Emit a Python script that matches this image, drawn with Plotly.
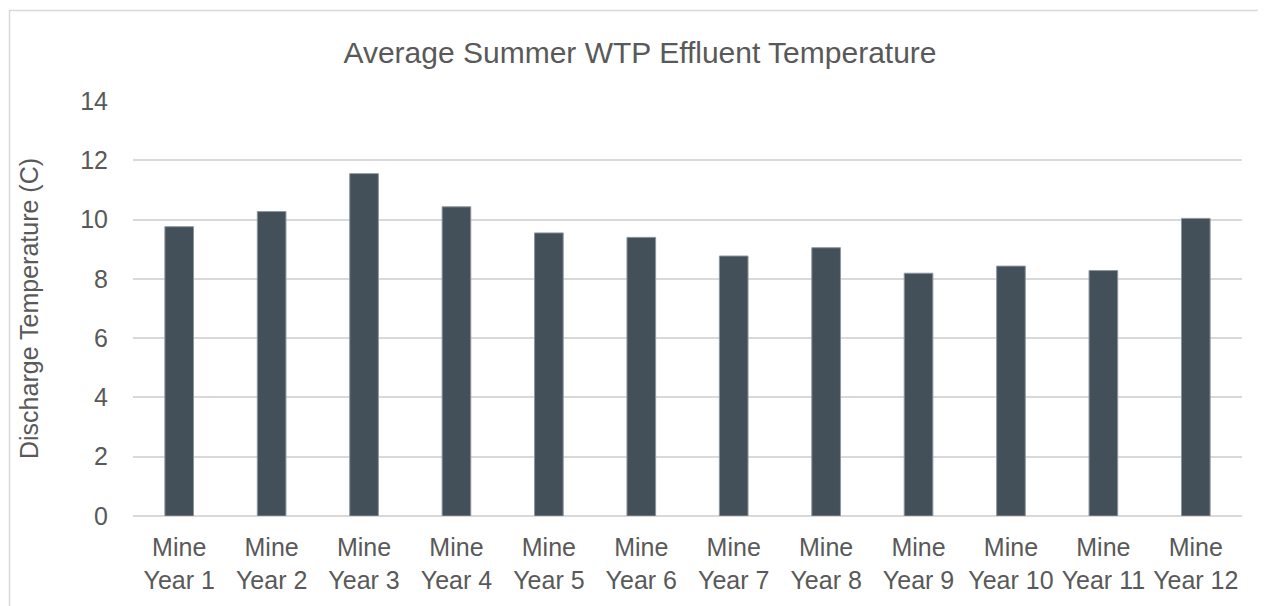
import plotly.graph_objects as go

categories = ["Mine<br>Year 1", "Mine<br>Year 2", "Mine<br>Year 3", "Mine<br>Year 4",
              "Mine<br>Year 5", "Mine<br>Year 6", "Mine<br>Year 7", "Mine<br>Year 8",
              "Mine<br>Year 9", "Mine<br>Year 10", "Mine<br>Year 11", "Mine<br>Year 12"]
temps = [9.76, 10.27, 11.55, 10.43, 9.55, 9.40, 8.77, 9.05, 8.19, 8.43, 8.28, 10.04]
y_ticks = [0, 2, 4, 6, 8, 10, 12, 14]

FONT = "Liberation Sans, Arial, sans-serif"
TXT = "#595959"

# page body has an 8px margin, so the figure is placed at (8, 8)
OFF = 8
W, H = 1266 - OFF, 606 - OFF
PL, PR, PT, PB = 133, 1242, 100.5, 515.6   # plot area in page pixels
L, R, T, B = PL - OFF, 1266 - PR, PT - OFF, 606 - PB
pw, ph = PR - PL, PB - PT

fig = go.Figure(go.Bar(
    x=categories, y=temps,
    marker=dict(color="#434F59", line=dict(color="#8C969E", width=1)),
    hoverinfo="x+y",
))

fig.update_layout(
    width=W, height=H,
    margin=dict(l=L, r=R, t=T, b=B, pad=0),
    paper_bgcolor="white", plot_bgcolor="white",
    bargap=0.69,
    showlegend=False,
    font=dict(family=FONT, color=TXT, size=25),
    title=dict(text="Average Summer WTP Effluent Temperature",
               x=(640 - OFF) / W, xanchor="center", xref="container",
               y=1 - (52 - OFF) / H, yanchor="middle", yref="container",
               font=dict(family=FONT, size=30, color=TXT)),
    xaxis=dict(showgrid=False, zeroline=False, showline=False,
               tickfont=dict(size=25, color=TXT), ticks="",
               ticklabelstandoff=14),
    yaxis=dict(range=[0, 14], tickvals=y_ticks, ticktext=[str(v) for v in y_ticks],
               showgrid=True, gridcolor="#D9D9D9", gridwidth=1.5,
               zeroline=True, zerolinecolor="#D9D9D9", zerolinewidth=1.5,
               showline=False, ticks="",
               tickfont=dict(size=25, color=TXT), ticklabelstandoff=24,
               title=dict(text="Discharge Temperature (C)",
                          font=dict(size=25, color=TXT), standoff=34)),
)

fig.add_shape(type="rect", xref="paper", yref="paper",
              x0=(9.5 - PL) / pw, x1=(1262 - PL) / pw,
              y0=(PB - 640) / ph, y1=(PB - 10) / ph,
              line=dict(color="#D9D9D9", width=1.5), fillcolor="rgba(0,0,0,0)",
              layer="below")

fig.write_html("out.html")
